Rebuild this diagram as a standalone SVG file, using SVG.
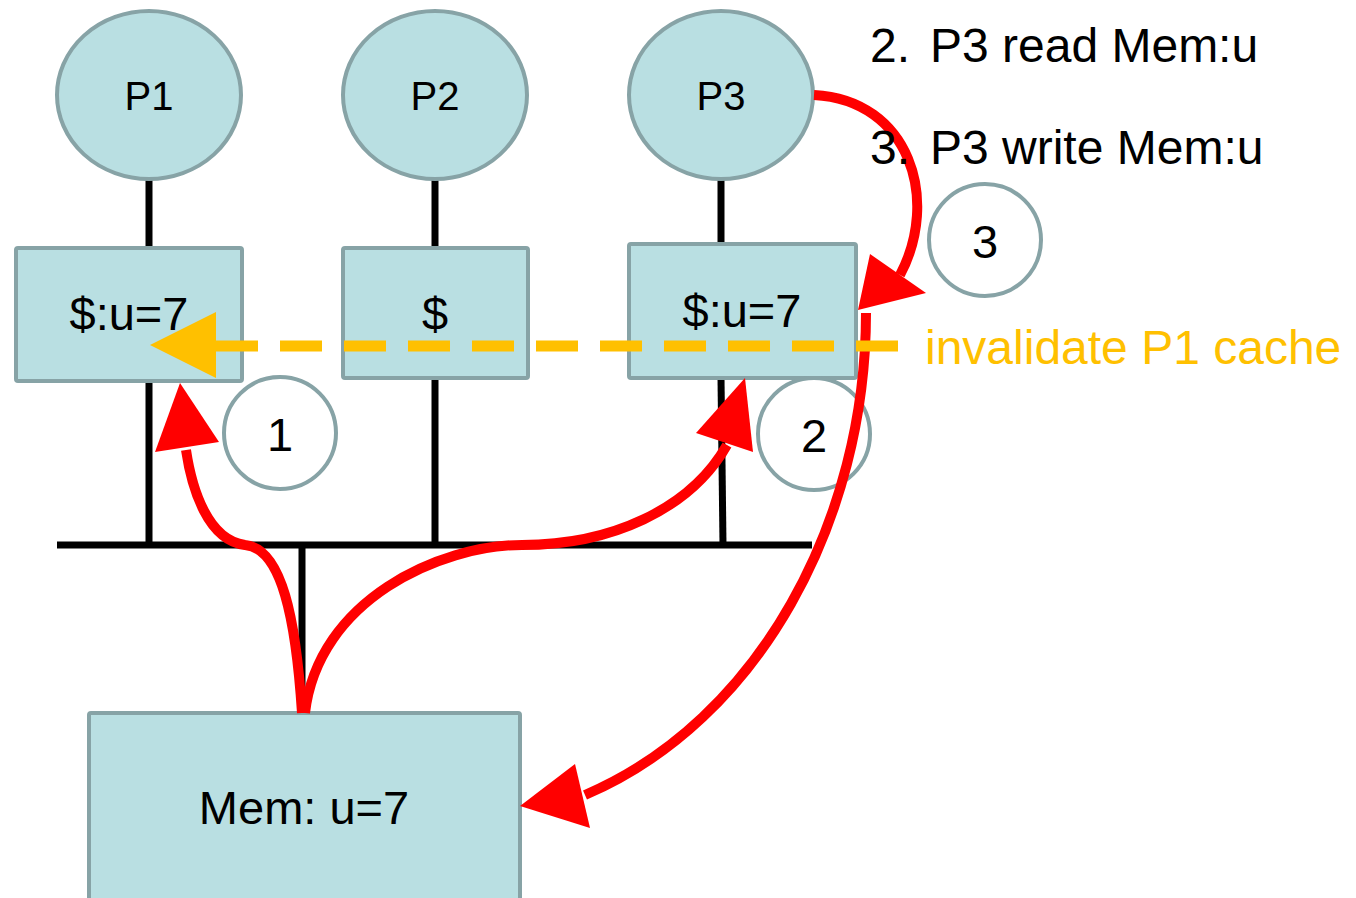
<svg xmlns="http://www.w3.org/2000/svg" width="1356" height="898" viewBox="0 0 1356 898">
<style>
.node{fill:#b9dfe2;stroke:#87a3a6;stroke-width:4}
.num{fill:#fff;stroke:#87a3a6;stroke-width:4}
.t{font-family:"Liberation Sans",Arial,sans-serif;font-size:40px;fill:#000;text-anchor:middle}
.big{font-size:47px}
.lbl{font-family:"Liberation Sans",Arial,sans-serif;font-size:48px;fill:#000}
.wire{stroke:#000;stroke-width:7;fill:none}
.red{stroke:#ff0000;stroke-width:10;fill:none}
.red-head{fill:#ff0000}
</style>
<rect width="1356" height="898" fill="#fff"/>
<g id="wires">
<line class="wire" x1="149" y1="180" x2="149" y2="248"/>
<line class="wire" x1="149" y1="381" x2="149" y2="545"/>
<line class="wire" x1="435" y1="180" x2="435" y2="248"/>
<line class="wire" x1="435" y1="378" x2="435" y2="545"/>
<line class="wire" x1="721" y1="180" x2="721" y2="244"/>
<line class="wire" x1="721" y1="378" x2="723" y2="545"/>
<line class="wire" x1="57" y1="545" x2="812" y2="545"/>
<line class="wire" x1="302" y1="545" x2="302" y2="713"/>
</g>
<g id="P1"><ellipse class="node" cx="149" cy="95" rx="92" ry="84"/><text class="t" x="149" y="110">P1</text></g>
<g id="P2"><ellipse class="node" cx="435" cy="95" rx="92" ry="84"/><text class="t" x="435" y="110">P2</text></g>
<g id="P3"><ellipse class="node" cx="721" cy="95" rx="92" ry="84"/><text class="t" x="721" y="110">P3</text></g>
<g id="C1"><rect class="node" x="16" y="248" width="226" height="133" rx="2"/><text class="t big" x="129" y="330">$:u=7</text></g>
<g id="C2"><rect class="node" x="343" y="248" width="185" height="130" rx="2"/><text class="t big" x="435" y="330">$</text></g>
<g id="C3"><rect class="node" x="629" y="244" width="227" height="134" rx="2"/><text class="t big" x="742" y="327">$:u=7</text></g>
<g id="Mem"><rect class="node" x="89" y="713" width="431" height="190" rx="2"/><text class="t big" x="304" y="824">Mem: u=7</text></g>
<g id="N1"><circle class="num" cx="280" cy="433" r="56"/><text class="t big" x="280" y="451">1</text></g>
<g id="N2"><circle class="num" cx="814" cy="434" r="56"/><text class="t big" x="814" y="452">2</text></g>
<g id="N3"><circle class="num" cx="985" cy="240" r="56"/><text class="t big" x="985" y="258">3</text></g>
<g id="connectors">
<path class="red" d="M302 713 C296 620 282 548 245 545 C208 540 192 490 186 450"/>
<polygon class="red-head" points="180,383 155,452 219,442"/>
<path class="red" d="M305 713 C318 600 440 545 522 545 C610 545 690 510 727 445"/>
<polygon class="red-head" points="745,378 696,433 753,452"/>
<path class="red" d="M814 95 C910 100 940 200 900 275"/>
<polygon class="red-head" points="858,310 870,254 926,293"/>
<path class="red" d="M866 313 C866 520 760 720 585 795"/>
<polygon class="red-head" points="520,806 575,764 590,828"/>
<line x1="898" y1="346" x2="216" y2="346" stroke="#ffc000" stroke-width="11" stroke-dasharray="42,22"/>
<polygon points="150,345 216,312 216,378" fill="#ffc000"/>
</g>
<g id="notes">
<text class="lbl" x="870" y="62">2.</text><text class="lbl" x="930" y="62">P3 read Mem:u</text>
<text class="lbl" x="870" y="164">3.</text><text class="lbl" x="930" y="164">P3 write Mem:u</text>
<text class="lbl" x="925" y="364" style="fill:#ffc000">invalidate P1 cache</text>
</g>
</svg>
